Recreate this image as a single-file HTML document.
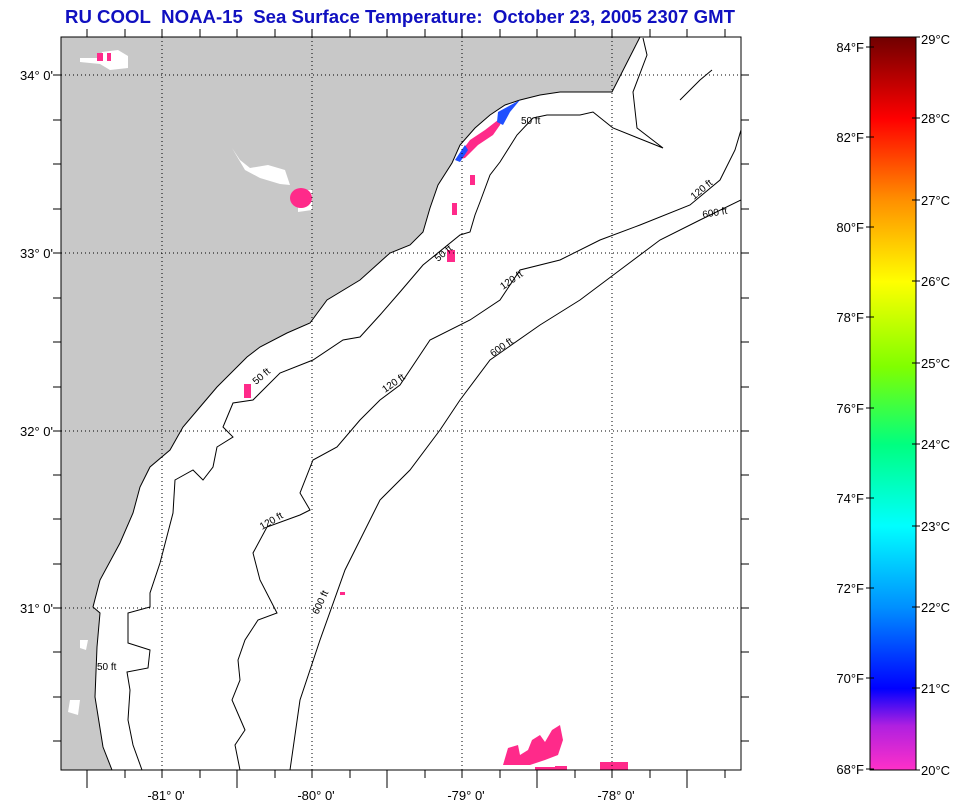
<!DOCTYPE html>
<html><head><meta charset="utf-8"><style>
body{margin:0;background:#fff;}
svg{display:block;font-family:"Liberation Sans",Arial,sans-serif;}
</style></head><body>
<svg width="968" height="801" viewBox="0 0 968 801" xmlns="http://www.w3.org/2000/svg">
<defs>
<linearGradient id="cb" x1="0" y1="1" x2="0" y2="0">
<stop offset="0" stop-color="#ff30c8"/>
<stop offset="0.06" stop-color="#b020e0"/>
<stop offset="0.111" stop-color="#0000ff"/>
<stop offset="0.222" stop-color="#0090ff"/>
<stop offset="0.333" stop-color="#00ffff"/>
<stop offset="0.444" stop-color="#00ff80"/>
<stop offset="0.55" stop-color="#80ff00"/>
<stop offset="0.666" stop-color="#ffff00"/>
<stop offset="0.777" stop-color="#ff9000"/>
<stop offset="0.888" stop-color="#ff0000"/>
<stop offset="1" stop-color="#700000"/>
</linearGradient>
<clipPath id="mc"><rect x="61" y="37" width="680" height="733"/></clipPath>
</defs>
<text x="65" y="23" font-size="18" font-weight="bold" fill="#1010c0" textLength="670" lengthAdjust="spacingAndGlyphs">RU COOL&#160; NOAA-15&#160; Sea Surface Temperature:&#160; October 23, 2005 2307 GMT</text>
<g clip-path="url(#mc)">
<rect x="61" y="37" width="680" height="733" fill="#fff"/>
<polygon fill="#c8c8c8" points="61,37 640,37 612,92 560,92 540,95 520,100 505,105 490,115 475,128 460,145 452,163 438,185 430,208 423,232 410,245 390,253 360,280 327,300 310,323 287,333 260,347 247,357 217,387 200,407 183,427 170,450 150,467 140,487 133,513 120,543 100,580 93,607 100,613 97,647 95,697 103,747 112,770 61,770"/>
<polyline fill="none" stroke="#000" stroke-width="1" points="640,37 612,92 560,92 540,95 520,100 505,105 490,115 475,128 460,145 452,163 438,185 430,208 423,232 410,245 390,253 360,280 327,300 310,323 287,333 260,347 247,357 217,387 200,407 183,427 170,450 150,467 140,487 133,513 120,543 100,580 93,607 100,613 97,647 95,697 103,747 112,770"/>
<path fill="#fff" d="M80,58 L100,58 L102,52 L118,50 L128,56 L128,68 L110,70 L100,64 L80,62Z M232,148 L240,160 L250,168 L268,165 L285,170 L290,185 L280,184 L260,178 L245,170Z M298,190 L312,190 L312,210 L298,212Z M70,700 L80,700 L78,715 L68,712Z M80,640 L88,640 L86,650 L80,648Z"/>
<g fill="#ff2a8a">
<ellipse cx="301" cy="198" rx="11" ry="10"/>
<rect x="97" y="53" width="6" height="8"/><rect x="107" y="53" width="4" height="8"/>
<path d="M455,160 L470,140 L485,130 L498,120 L505,112 L500,125 L493,135 L478,145 L465,158Z"/>
<rect x="447" y="250" width="8" height="12"/>
<rect x="244" y="384" width="7" height="14"/>
<rect x="452" y="203" width="5" height="12"/><rect x="470" y="175" width="5" height="10"/>
<rect x="340" y="592" width="5" height="3"/>
<path d="M503,765 L508,748 L518,745 L520,755 L528,750 L532,740 L540,735 L545,742 L552,730 L560,725 L563,740 L558,755 L545,760 L530,765 Z"/>
<rect x="600" y="762" width="28" height="8"/><rect x="535" y="767" width="20" height="3"/>
<rect x="555" y="766" width="12" height="4"/>
</g>
<path fill="#2050ff" d="M498,112 L520,100 L510,112 L503,125 L497,122Z M455,160 L465,145 L468,150 L460,162Z"/>
<g fill="none" stroke="#000" stroke-width="1">
<polyline points="142,770 133,745 128,720 130,690 127,672 148,668 150,650 128,643 128,613 150,607 150,593 160,563 173,513 175,480 193,470 203,480 213,467 217,447 233,437 223,427 233,403 253,400 280,373 313,360 343,340 360,337 380,315 400,292 423,265 460,235 470,232 475,215 480,202 490,175 500,162 517,135 533,118 547,115 580,115 593,112 613,128 663,148 637,128 633,92 647,55 643,38"/>
<polyline points="240,770 235,745 245,730 232,700 240,680 238,660 245,640 258,620 277,613 260,580 253,553 267,527 300,515 310,510 300,493 313,460 337,447 360,420 380,400 400,385 430,340 470,320 500,300 520,270 560,260 600,240 640,225 690,205 720,180 735,150 741,130"/>
<polyline points="290,770 300,700 320,640 345,570 380,500 410,470 440,430 460,400 490,360 540,325 580,300 620,270 660,240 700,220 741,200"/>
<polyline points="680,100 700,80 712,70"/>
</g>
<g font-size="10" fill="#000">
<text x="521" y="124">50 ft</text>
<text x="438" y="262" transform="rotate(-40 438 262)">50 ft</text>
<text x="256" y="385" transform="rotate(-40 256 385)">50 ft</text>
<text x="97" y="670">50 ft</text>
<text x="385" y="393" transform="rotate(-35 385 393)">120 ft</text>
<text x="503" y="290" transform="rotate(-35 503 290)">120 ft</text>
<text x="694" y="200" transform="rotate(-40 694 200)">120 ft</text>
<text x="262" y="530" transform="rotate(-30 262 530)">120 ft</text>
<text x="493" y="357" transform="rotate(-35 493 357)">600 ft</text>
<text x="703" y="218" transform="rotate(-10 703 218)">600 ft</text>
<text x="318" y="615" transform="rotate(-65 318 615)">600 ft</text>
</g>
<g stroke="#000" stroke-width="1" stroke-dasharray="1,3">
<line x1="162" y1="37" x2="162" y2="770"/><line x1="312" y1="37" x2="312" y2="770"/>
<line x1="462" y1="37" x2="462" y2="770"/><line x1="612" y1="37" x2="612" y2="770"/>
<line x1="61" y1="75" x2="741" y2="75"/><line x1="61" y1="253" x2="741" y2="253"/>
<line x1="61" y1="431" x2="741" y2="431"/><line x1="61" y1="608" x2="741" y2="608"/>
</g>
</g>
<rect x="61" y="37" width="680" height="733" fill="none" stroke="#000" stroke-width="1"/>
<g stroke="#000" stroke-width="1">
<path d="M87,770v18M125,770v8M162,770v8M200,770v8M237,770v18M275,770v8M312,770v8M350,770v8M387,770v18M425,770v8M462,770v8M500,770v8M537,770v18M575,770v8M612,770v8M650,770v8M687,770v18M725,770v8"/>
<path d="M87,37v-8M125,37v-8M162,37v-8M200,37v-8M237,37v-8M275,37v-8M312,37v-8M350,37v-8M387,37v-8M425,37v-8M462,37v-8M500,37v-8M537,37v-8M575,37v-8M612,37v-8M650,37v-8M687,37v-8M725,37v-8"/>
<path d="M61,75h-8M61,120h-8M61,164h-8M61,209h-8M61,253h-8M61,298h-8M61,342h-8M61,387h-8M61,431h-8M61,475h-8M61,519h-8M61,564h-8M61,608h-8M61,652h-8M61,697h-8M61,741h-8"/>
<path d="M741,75h8M741,120h8M741,164h8M741,209h8M741,253h8M741,298h8M741,342h8M741,387h8M741,431h8M741,475h8M741,519h8M741,564h8M741,608h8M741,652h8M741,697h8M741,741h8"/>
</g>
<g font-size="13" fill="#000">
<text x="53" y="80" text-anchor="end">34° 0'</text>
<text x="53" y="258" text-anchor="end">33° 0'</text>
<text x="53" y="436" text-anchor="end">32° 0'</text>
<text x="53" y="613" text-anchor="end">31° 0'</text>
<text x="166" y="800" text-anchor="middle">-81° 0'</text>
<text x="316" y="800" text-anchor="middle">-80° 0'</text>
<text x="466" y="800" text-anchor="middle">-79° 0'</text>
<text x="616" y="800" text-anchor="middle">-78° 0'</text>
</g>
<rect x="870" y="37" width="46" height="733" fill="url(#cb)" stroke="#000" stroke-width="1"/>
<g stroke="#000" stroke-width="1">
<path d="M866,47h8M866,137h8M866,227h8M866,317h8M866,408h8M866,498h8M866,588h8M866,678h8M866,769h8"/>
<path d="M912,37h8M912,118h8M912,200h8M912,281h8M912,363h8M912,444h8M912,526h8M912,607h8M912,688h8M912,770h8"/>
</g>
<g font-size="13" fill="#000">
<g text-anchor="end">
<text x="864" y="52">84°F</text><text x="864" y="142">82°F</text><text x="864" y="232">80°F</text>
<text x="864" y="322">78°F</text><text x="864" y="413">76°F</text><text x="864" y="503">74°F</text>
<text x="864" y="593">72°F</text><text x="864" y="683">70°F</text><text x="864" y="774">68°F</text>
</g>
<text x="921" y="44">29°C</text><text x="921" y="123">28°C</text><text x="921" y="205">27°C</text>
<text x="921" y="286">26°C</text><text x="921" y="368">25°C</text><text x="921" y="449">24°C</text>
<text x="921" y="531">23°C</text><text x="921" y="612">22°C</text><text x="921" y="693">21°C</text>
<text x="921" y="775">20°C</text>
</g>
</svg>
</body></html>
